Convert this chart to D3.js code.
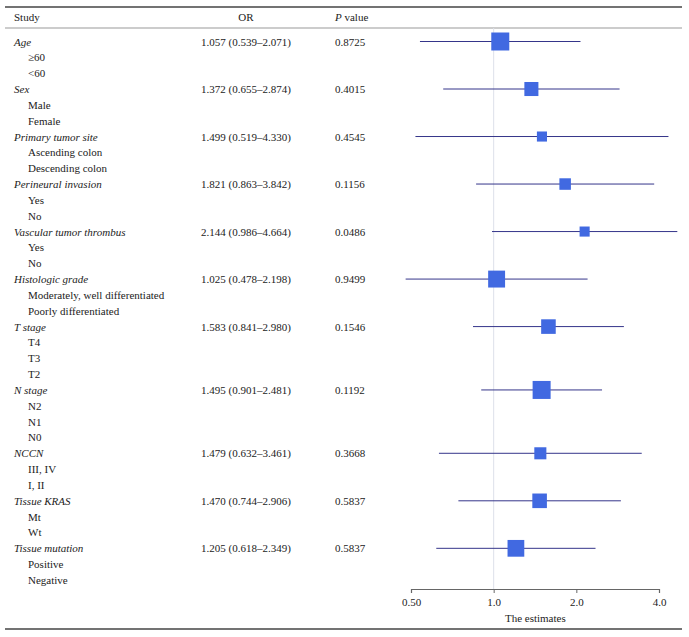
<!DOCTYPE html>
<html lang="en">
<head>
  <meta charset="UTF-8">
  <title>Forest plot</title>
  <script src="https://d3js.org/d3.v7.min.js"></script>
  <style>
    body {
      margin: 0;
      background: #fff;
    }
    svg text {
      font-family: "Liberation Serif", "Times New Roman", serif;
      font-size: 11px;
      fill: #222;
    }
    .rule {
      stroke: #444;
      stroke-width: 1.3;
    }
    .ci {
      stroke: #35358a;
      stroke-width: 1;
    }
    .box {
      fill: #4169e1;
    }
    .axis path, .axis line {
      stroke: #666;
    }
  </style>
</head>
<body>
  <svg width="689" height="637"></svg>
  <script>
    const studies = ["Age", "Sex", "Primary tumor site", "Perineural invasion",
      "Vascular tumor thrombus", "Histologic grade", "T stage", "N stage",
      "NCCN", "Tissue KRAS", "Tissue mutation"];
    const subgroups = [
      ["≥60", "<60"],
      ["Male", "Female"],
      ["Ascending colon", "Descending colon"],
      ["Yes", "No"],
      ["Yes", "No"],
      ["Moderately, well differentiated", "Poorly differentiated"],
      ["T4", "T3", "T2"],
      ["N2", "N1", "N0"],
      ["III, IV", "I, II"],
      ["Mt", "Wt"],
      ["Positive", "Negative"]
    ];
    const or = [1.057, 1.372, 1.499, 1.821, 2.144, 1.025, 1.583, 1.495, 1.479, 1.470, 1.205];
    const lower = [0.539, 0.655, 0.519, 0.863, 0.986, 0.478, 0.841, 0.901, 0.632, 0.744, 0.618];
    const upper = [2.071, 2.874, 4.330, 3.842, 4.664, 2.198, 2.980, 2.481, 3.461, 2.906, 2.349];
    const pValues = ["0.8725", "0.4015", "0.4545", "0.1156", "0.0486", "0.9499",
      "0.1546", "0.1192", "0.3668", "0.5837", "0.5837"];
    // relative box weights
    const weights = [1.0, 0.78, 0.56, 0.64, 0.56, 0.94, 0.81, 1.0, 0.67, 0.81, 0.93];
    const tickValues = [0.5, 1, 2, 4];
    const tickLabels = ["0.50", "1.0", "2.0", "4.0"];

    const svg = d3.select("svg");
    const fmt = d3.format(".3f");

    // flatten into table rows
    const rows = [];
    studies.forEach((s, i) => {
      rows.push({ label: s, head: true, k: i });
      subgroups[i].forEach(g => rows.push({ label: g, head: false, k: i }));
    });

    const y = d3.scaleLinear().domain([0, rows.length - 1]).range([41.5, 580]);
    const x = d3.scaleLog().domain([0.5, 4]).range([411, 659]);
    const boxSize = d3.scaleLinear().domain([0, 1]).range([0, 18]);

    // rules
    [7, 629].forEach(v => svg.append("line").attr("class", "rule")
      .attr("x1", 5).attr("x2", 682).attr("y1", v).attr("y2", v));
    svg.append("line").attr("x1", 5).attr("x2", 682).attr("y1", 28).attr("y2", 28)
      .attr("stroke", "#999").attr("stroke-width", 1.2);

    // header
    svg.append("text").attr("x", 14).attr("y", 21).text("Study");
    svg.append("text").attr("x", 246).attr("y", 21).attr("text-anchor", "middle").text("OR");
    const ph = svg.append("text").attr("x", 335).attr("y", 21);
    ph.append("tspan").attr("font-style", "italic").text("P");
    ph.append("tspan").text(" value");

    // reference line at 1
    svg.append("line")
      .attr("x1", x(1)).attr("x2", x(1))
      .attr("y1", 28).attr("y2", 589)
      .attr("stroke", "#dde0ea").attr("stroke-width", 1);

    // labels
    svg.selectAll(".lab")
      .data(rows)
      .enter()
      .append("text")
      .attr("x", d => d.head ? 14 : 28)
      .attr("y", (d, i) => y(i) + 4)
      .attr("font-style", d => d.head ? "italic" : null)
      .text(d => d.label);

    const heads = rows.map((d, i) => ({ ...d, i })).filter(d => d.head);

    svg.selectAll(".ortxt")
      .data(heads)
      .enter()
      .append("text")
      .attr("x", 246)
      .attr("y", d => y(d.i) + 4)
      .attr("text-anchor", "middle")
      .text(d => `${fmt(or[d.k])} (${fmt(lower[d.k])}–${fmt(upper[d.k])})`);

    svg.selectAll(".ptxt")
      .data(heads)
      .enter()
      .append("text")
      .attr("x", 335)
      .attr("y", d => y(d.i) + 4)
      .text(d => pValues[d.k]);

    svg.selectAll(".ci")
      .data(heads)
      .enter()
      .append("line")
      .attr("class", "ci")
      .attr("x1", d => x(lower[d.k]))
      .attr("x2", d => x(upper[d.k]))
      .attr("y1", d => y(d.i))
      .attr("y2", d => y(d.i));

    svg.selectAll(".box")
      .data(heads)
      .enter()
      .append("rect")
      .attr("class", "box")
      .attr("x", d => x(or[d.k]) - boxSize(weights[d.k]) / 2)
      .attr("y", d => y(d.i) - boxSize(weights[d.k]) / 2)
      .attr("width", d => boxSize(weights[d.k]))
      .attr("height", d => boxSize(weights[d.k]));

    // axis
    const axis = svg.append("g")
      .attr("class", "axis")
      .attr("transform", "translate(0,589)")
      .call(d3.axisBottom(x)
        .tickValues(tickValues)
        .tickFormat((d, i) => tickLabels[i])
        .tickSize(4)
        .tickPadding(5));
    axis.selectAll("text")
      .style("font-family", '"Liberation Serif", serif')
      .style("font-size", "11px")
      .attr("fill", "#222");
    axis.select(".domain").attr("stroke-width", 1.2);

    svg.append("text")
      .attr("x", (x(1) + x(4)) / 2 - 41)
      .attr("y", 622)
      .attr("text-anchor", "middle")
      .text("The estimates");
  </script>
</body>
</html>
